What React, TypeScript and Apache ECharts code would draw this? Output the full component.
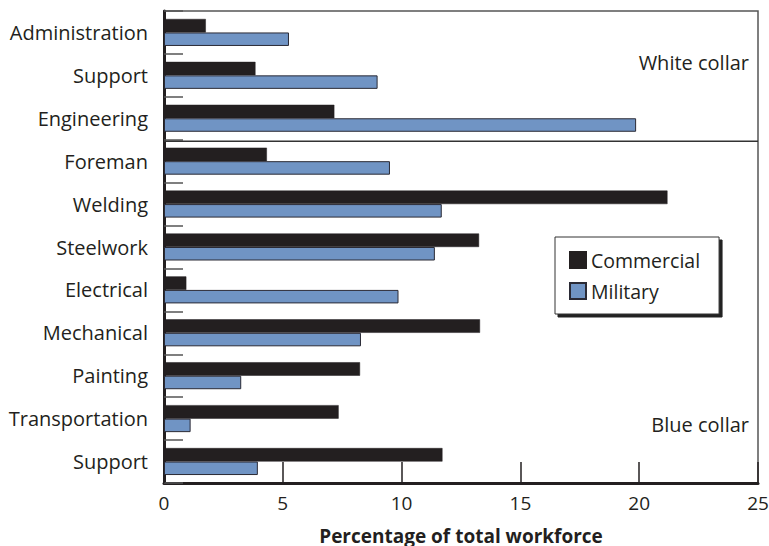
import React, { useEffect, useRef } from "react";
import * as echarts from "echarts";

const categories = [
  "Administration",
  "Support",
  "Engineering",
  "Foreman",
  "Welding",
  "Steelwork",
  "Electrical",
  "Mechanical",
  "Painting",
  "Transportation",
  "Support ",
];
const commercial = [1.76, 3.85, 7.17, 4.33, 21.19, 13.26, 0.94, 13.3, 8.25, 7.35, 11.72];
const military = [5.26, 8.99, 19.87, 9.51, 11.69, 11.4, 9.87, 8.29, 3.25, 1.12, 3.95];
const seriesNames = ["Commercial", "Military"];
const groupLabels = ["White collar", "Blue collar"];
const xTitle = "Percentage of total workforce";
const dividerAfter = 2; // white collar ends after "Engineering"

const FONT = "'Open Sans', 'Noto Sans', sans-serif";
const INK = "#231f20";

export default function App() {
  const ref = useRef<HTMLDivElement>(null);
  useEffect(() => {
    if (!ref.current) return;
    const chart = echarts.init(ref.current, null, { renderer: "svg" });
    chart.setOption({
      animation: false,
      backgroundColor: "#fff",
      grid: {
        left: 164,
        right: 11,
        top: 11,
        bottom: 63,
        show: true,
        borderColor: "#555",
        borderWidth: 1.5,
        containLabel: false,
        outerBoundsMode: "none",
      },
      legend: {
        orient: "vertical",
        left: 555,
        top: 237,
        padding: [13, 19, 13, 14],
        itemWidth: 16,
        itemHeight: 16,
        itemGap: 11,
        icon: "rect",
        backgroundColor: "#fff",
        borderColor: "#333",
        borderWidth: 1,
        shadowColor: "#222",
        shadowBlur: 0,
        shadowOffsetX: 3,
        shadowOffsetY: 3,
        textStyle: { fontFamily: FONT, fontSize: 19.5, color: INK },
        data: seriesNames,
      },
      xAxis: {
        type: "value",
        min: 0,
        max: 25,
        interval: 5,
        axisLine: { show: true, lineStyle: { color: INK, width: 3 } },
        axisTick: { show: true, inside: true, length: 21, lineStyle: { color: INK, width: 1.5 } },
        splitLine: { show: false },
        axisLabel: { fontFamily: FONT, fontSize: 19, color: INK, margin: 10 },
        name: xTitle,
        nameLocation: "middle",
        nameGap: 43,
        nameTextStyle: {
          fontFamily: FONT,
          fontSize: 19,
          fontWeight: "bold",
          color: INK,
          lineHeight: 19,
        },
      },
      yAxis: {
        type: "category",
        inverse: true,
        data: categories,
        axisLine: { show: true, lineStyle: { color: INK, width: 3 } },
        axisTick: { show: true, inside: true, length: 19, lineStyle: { color: "#555", width: 1.5 } },
        splitLine: { show: false },
        axisLabel: {
          fontFamily: FONT,
          fontSize: 20,
          color: INK,
          margin: 16,
          padding: [3, 0, 0, 0],
          formatter: (v: string) => v.trim(),
        },
      },
      series: [
        {
          name: seriesNames[0],
          type: "bar",
          data: commercial,
          barWidth: 13.5,
          barGap: "0%",
          itemStyle: { color: INK, borderColor: INK, borderWidth: 0.5 },
        },
        {
          name: seriesNames[1],
          type: "bar",
          data: military,
          barWidth: 13.5,
          barGap: "0%",
          itemStyle: { color: "#7094c4", borderColor: "#2a2a35", borderWidth: 1 },
        },
      ],
    });

    const yA = chart.convertToPixel({ yAxisIndex: 0 }, categories[dividerAfter]) as number;
    const yB = chart.convertToPixel({ yAxisIndex: 0 }, categories[dividerAfter + 1]) as number;
    const yDiv = (yA + yB) / 2 + 1.5;
    const x0 = chart.convertToPixel({ xAxisIndex: 0 }, 0) as number;
    const x1 = chart.convertToPixel({ xAxisIndex: 0 }, 25) as number;
    const yTop = chart.convertToPixel({ yAxisIndex: 0 }, categories[1]) as number;
    const yBot = chart.convertToPixel({ yAxisIndex: 0 }, categories[categories.length - 2]) as number;

    chart.setOption({
      graphic: [
        {
          type: "line",
          shape: { x1: x0, y1: yDiv, x2: x1, y2: yDiv },
          style: { stroke: "#333", lineWidth: 1.5 },
          z: 5,
        },
        {
          type: "text",
          x: x1 - 9,
          y: yTop - 13,
          style: {
            text: groupLabels[0],
            font: `20px ${FONT}`,
            fill: INK,
            textAlign: "right",
            textVerticalAlign: "middle",
          },
        },
        {
          type: "text",
          x: x1 - 9,
          y: yBot + 6,
          style: {
            text: groupLabels[1],
            font: `20px ${FONT}`,
            fill: INK,
            textAlign: "right",
            textVerticalAlign: "middle",
          },
        },
      ],
    });
    return () => chart.dispose();
  }, []);
  return (
    <div
      ref={ref}
      style={{ position: "fixed", left: 0, top: 0, width: 769, height: 546 }}
    />
  );
}
